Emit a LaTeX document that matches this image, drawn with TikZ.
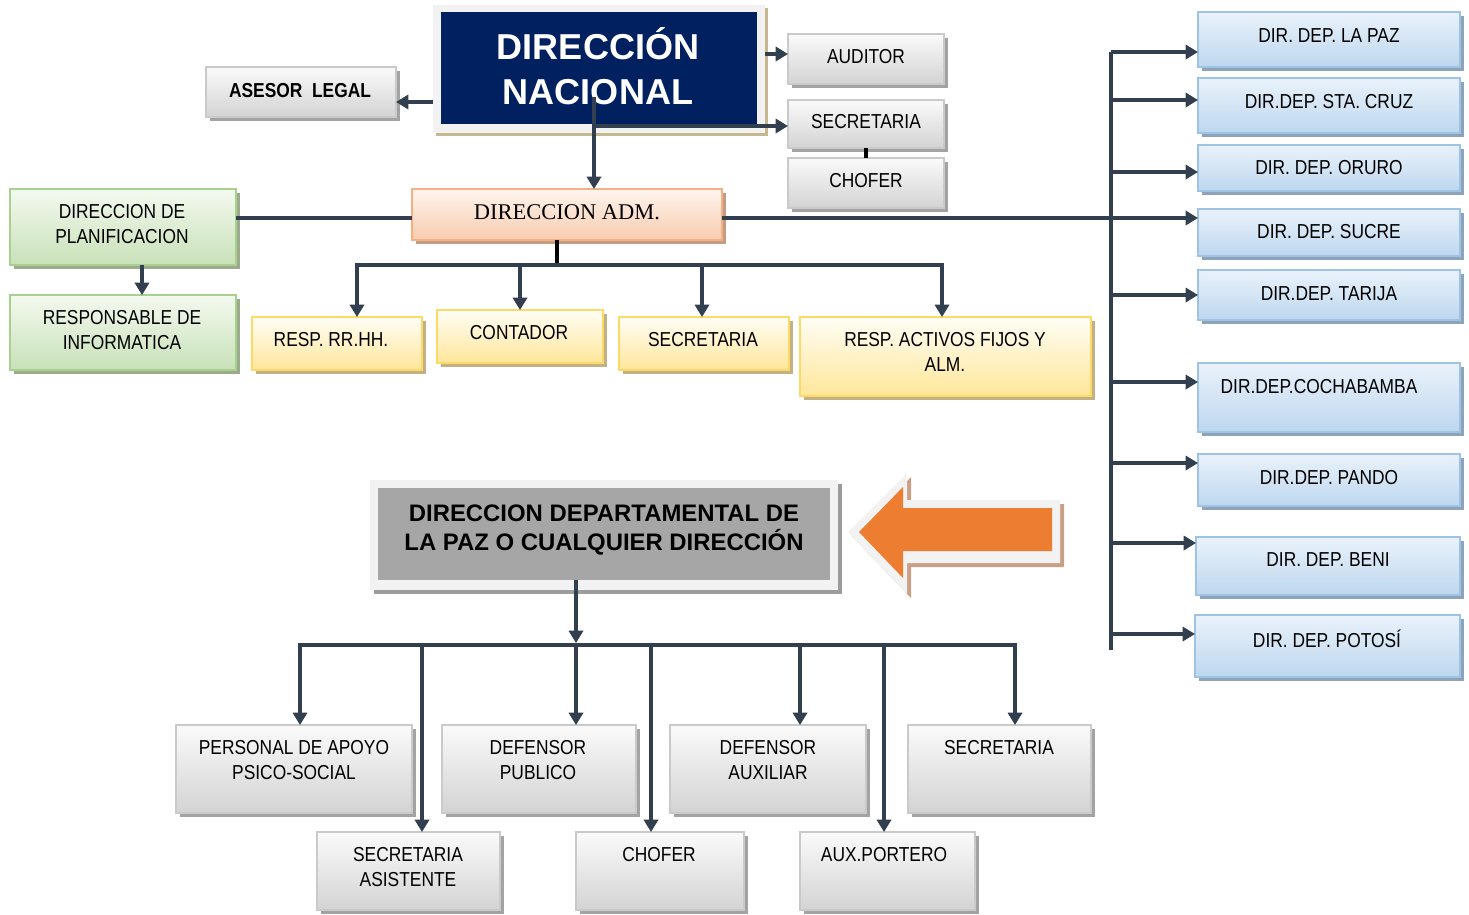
\documentclass[tikz,border=0pt]{standalone}
\usepackage{fontspec}
\setmainfont{Liberation Sans}[FakeStretch=0.86]
\newfontfamily\wideb{Liberation Sans}
\newfontfamily\seriff{Liberation Serif}
\usetikzlibrary{arrows.meta,shadows}
\definecolor{conn}{HTML}{323F4F}
\definecolor{gb}{HTML}{CACACA}\definecolor{gt}{HTML}{FAFAFA}\definecolor{gbot}{HTML}{D3D3D3}\definecolor{gs}{HTML}{A3A3A3}
\definecolor{bb}{HTML}{9DC3E6}\definecolor{bt}{HTML}{EAF2FB}\definecolor{bbot}{HTML}{BDD7EE}\definecolor{bs}{HTML}{8EA2B8}
\definecolor{grb}{HTML}{A9D18E}\definecolor{grt}{HTML}{F3F9EF}\definecolor{grbot}{HTML}{C8E1B8}\definecolor{grs}{HTML}{9CAA8E}
\definecolor{yb}{HTML}{FFD966}\definecolor{yt}{HTML}{FFFEF6}\definecolor{ybot}{HTML}{FFE699}\definecolor{ys}{HTML}{C2B185}
\definecolor{ob}{HTML}{F4B183}\definecolor{ot}{HTML}{FEF5EF}\definecolor{obot}{HTML}{F8CBAD}\definecolor{os}{HTML}{C49C84}
\definecolor{navy}{HTML}{002060}\definecolor{frame}{HTML}{F2F2F2}\definecolor{tan}{HTML}{C6B78F}
\definecolor{ddgray}{HTML}{A6A6A6}\definecolor{ddshadow}{HTML}{9C9C9C}
\definecolor{orarrow}{HTML}{ED7D31}\definecolor{orshadow}{HTML}{C9A086}
\newcommand\fs{\fontsize{11.5pt}{14.2pt}\selectfont}
\newcommand\bx[6]{%
 \pgfmathsetmacro\bxcx{(#3+#5)/2}%
 \pgfmathsetmacro\bxcy{(#4+#6)/2}%
 \pgfmathsetmacro\bxw{(#5-#3)*0.02}%
 \pgfmathsetmacro\bxh{(#6-#4)*0.02}%
 \node[#2, minimum width=\bxw cm, minimum height=\bxh cm] (#1) at (\bxcx,\bxcy) {};}
\tikzset{
 base/.style={rectangle, inner sep=0pt, outer sep=0pt, line width=1.3pt},
 gbox/.style={base, draw=gb, top color=gt, bottom color=gbot, drop shadow={shadow xshift=2.3pt, shadow yshift=-2.3pt, opacity=1, fill=gs}},
 bbox/.style={base, draw=bb, top color=bt, bottom color=bbot, drop shadow={shadow xshift=2.3pt, shadow yshift=-2.3pt, opacity=1, fill=bs}},
 grbox/.style={base, draw=grb, top color=grt, bottom color=grbot, drop shadow={shadow xshift=2.3pt, shadow yshift=-2.3pt, opacity=1, fill=grs}},
 ybox/.style={base, draw=yb, top color=yt, bottom color=ybot, drop shadow={shadow xshift=2.3pt, shadow yshift=-2.3pt, opacity=1, fill=ys}},
 obox/.style={base, draw=ob, top color=ot, bottom color=obot, drop shadow={shadow xshift=2.3pt, shadow yshift=-2.3pt, opacity=1, fill=os}},
 txt/.style={inner sep=0pt, align=center, font=\fs},
 arr/.style={draw=conn, line width=2pt, -{Triangle[width=8pt,length=7pt]}},
 ln/.style={draw=conn, line width=2pt},
}
\begin{document}
\begin{tikzpicture}[x=0.02cm, y=-0.02cm]
\useasboundingbox (0,0) rectangle (1469,914);
% ---- top: direccion nacional
\bx{dn}{base, fill=frame, drop shadow={shadow xshift=1.8pt, shadow yshift=-1.8pt, opacity=1, fill=tan}}{433}{5}{765}{133}
\bx{dnin}{base, fill=navy}{441}{12}{757}{124}
\node[inner sep=0pt, align=center, text=white, font=\wideb\bfseries\fontsize{20.5pt}{25.5pt}\selectfont] (tdn) at (598,66) {DIRECCIÓN\\NACIONAL};
\bx{asesor}{gbox}{206}{67}{396}{117}
\node[txt, font=\fs\bfseries] (tasesor) at (300,91) {ASESOR\ \ LEGAL};
\bx{aud}{gbox}{788}{34}{944}{84}
\node[txt] (taud) at (866,57) {AUDITOR};
\bx{sec1}{gbox}{788}{100}{944}{148}
\node[txt] (tsec1) at (866,122) {SECRETARIA};
\bx{chof1}{gbox}{788}{158}{944}{208}
\node[txt] (tchof1) at (866,181) {CHOFER};
\bx{adm}{obox}{412}{189}{722}{240}
\node[txt, font=\seriff\fontsize{12.8pt}{15pt}\selectfont] (tadm) at (567,212) {DIRECCION ADM.};
\bx{plan}{grbox}{10}{189}{236}{265}
\node[txt] (tplan) at (122,224) {DIRECCION DE\\PLANIFICACION};
\bx{info}{grbox}{10}{295}{236}{370}
\node[txt] (tinfo) at (122,330) {RESPONSABLE DE\\INFORMATICA};
\bx{rrhh}{ybox}{252}{317}{422}{370}
\node[txt] (trrhh) at (331,340) {RESP. RR.HH.};
\bx{cont}{ybox}{437}{310}{603}{363}
\node[txt] (tcont) at (519,333) {CONTADOR};
\bx{sec2}{ybox}{619}{317}{789}{370}
\node[txt] (tsec2) at (703,340) {SECRETARIA};
\bx{act}{ybox}{800}{317}{1091}{396}
\node[txt] (tact) at (945,352) {RESP. ACTIVOS FIJOS Y\\ALM.};
% ---- right column
\bx{lapaz}{bbox}{1198}{12}{1460}{67}
\node[txt] (tlapaz) at (1329,36) {DIR. DEP. LA PAZ};
\bx{scruz}{bbox}{1198}{78}{1460}{133}
\node[txt] (tscruz) at (1329,102) {DIR.DEP. STA. CRUZ};
\bx{oruro}{bbox}{1198}{145}{1460}{191}
\node[txt] (toruro) at (1329,168) {DIR. DEP. ORURO};
\bx{sucre}{bbox}{1198}{209}{1460}{256}
\node[txt] (tsucre) at (1329,232) {DIR. DEP. SUCRE};
\bx{tarija}{bbox}{1198}{270}{1460}{320}
\node[txt] (ttarija) at (1329,294) {DIR.DEP. TARIJA};
\bx{cocha}{bbox}{1198}{363}{1460}{432}
\node[txt] (tcocha) at (1319,387) {DIR.DEP.COCHABAMBA};
\bx{pando}{bbox}{1198}{454}{1460}{506}
\node[txt] (tpando) at (1329,478) {DIR.DEP. PANDO};
\bx{beni}{bbox}{1196}{537}{1460}{595}
\node[txt] (tbeni) at (1328,560) {DIR. DEP. BENI};
\bx{potosi}{bbox}{1195}{615}{1460}{677}
\node[txt] (tpotosi) at (1327,639) {DIR. DEP. POTOSÍ};
% ---- middle: direccion departamental
\bx{dd}{base, fill=frame, drop shadow={shadow xshift=2.3pt, shadow yshift=-2.3pt, opacity=1, fill=ddshadow}}{370}{480}{838}{590}
\bx{ddin}{base, fill=ddgray}{378}{488}{830}{580}
\node[inner sep=0pt, align=center, font=\wideb\bfseries\fontsize{13.6pt}{17pt}\selectfont] (tdd) at (604,530) {DIRECCION DEPARTAMENTAL DE\\LA PAZ O CUALQUIER DIRECCIÓN};
% orange arrow
\fill[orshadow] (852,536) -- (911,477) -- (911,504) -- (1064,504) -- (1064,567) -- (911,567) -- (911,598) -- cycle;
\fill[frame] (848,532) -- (907,473) -- (907,500) -- (1060,500) -- (1060,563) -- (907,563) -- (907,594) -- cycle;
\fill[orarrow] (859,532) -- (903,487) -- (903,508) -- (1052,508) -- (1052,551) -- (903,551) -- (903,578) -- cycle;
% ---- bottom boxes
\bx{pers}{gbox}{176}{725}{412}{813}
\node[txt] (tpers) at (294,760) {PERSONAL DE APOYO\\PSICO-SOCIAL};
\bx{defp}{gbox}{442}{725}{636}{813}
\node[txt] (tdefp) at (538,760) {DEFENSOR\\PUBLICO};
\bx{defa}{gbox}{670}{725}{866}{813}
\node[txt] (tdefa) at (768,760) {DEFENSOR\\AUXILIAR};
\bx{sec3}{gbox}{908}{725}{1091}{813}
\node[txt] (tsec3) at (999,748) {SECRETARIA};
\bx{seca}{gbox}{317}{832}{500}{910}
\node[txt] (tseca) at (408,867) {SECRETARIA\\ASISTENTE};
\bx{chof2}{gbox}{576}{832}{744}{910}
\node[txt] (tchof2) at (659,855) {CHOFER};
\bx{port}{gbox}{800}{832}{975}{910}
\node[txt] (tport) at (884,855) {AUX.PORTERO};
% ---- connectors top
\draw[arr] (dn.west |- 0,102) -- (asesor.east |- 0,102);
\draw[arr] (dn.east |- 0,54) -- (aud.west |- 0,54);
\coordinate (v1) at (594,97);
\coordinate (v2) at (594,126);
\draw[arr] (v1) -- (adm.north -| v1);
\draw[arr] (v2) -- (sec1.west |- v2);
\draw[black, line width=1.8pt] (sec1.south) -- (chof1.north);
\draw[ln] (plan.east |- 0,218) -- (adm.west |- 0,218);
\draw[arr] (adm.east |- 0,218) -- (sucre.west |- 0,218);
\draw[arr] (plan.south -| 142,0) -- (info.north -| 142,0);
% right bus
\coordinate (rb1) at (1111,52);
\coordinate (rb2) at (1111,650);
\draw[ln] (rb1) -- (rb2);
\draw[arr] (rb1) -- (lapaz.west |- rb1);
\draw[arr] (1111,100) -- (scruz.west |- 0,100);
\draw[arr] (1111,172) -- (oruro.west |- 0,172);
\draw[arr] (1111,295) -- (tarija.west |- 0,295);
\draw[arr] (1111,382) -- (cocha.west |- 0,382);
\draw[arr] (1111,463) -- (pando.west |- 0,463);
\draw[arr] (1111,543) -- (beni.west |- 0,543);
\draw[arr] (1111,634) -- (potosi.west |- 0,634);
% adm bus
\coordinate (hb) at (557,265);
\coordinate (hl) at (357,265);
\coordinate (hr) at (942,265);
\draw[black, line width=1.8pt] (adm.south -| hb) -- (hb);
\draw[ln, line cap=rect] (hl) -- (hr);
\draw[arr] (hl) -- (rrhh.north -| hl);
\draw[arr] (520,265) -- (cont.north -| 520,0);
\draw[arr] (702,265) -- (sec2.north -| 702,0);
\draw[arr] (hr) -- (act.north -| hr);
% bottom bus
\coordinate (bbus) at (576,643);
\coordinate (bl) at (300,645);
\coordinate (br) at (1015,645);
\draw[arr] (ddin.south -| bbus) -- (bbus);
\draw[ln, line cap=rect] (bl) -- (br);
\draw[arr] (bl) -- (pers.north -| bl);
\draw[arr] (422,645) -- (seca.north -| 422,0);
\draw[arr] (576,645) -- (defp.north -| 576,0);
\draw[arr] (651,645) -- (chof2.north -| 651,0);
\draw[arr] (800,645) -- (defa.north -| 800,0);
\draw[arr] (884,645) -- (port.north -| 884,0);
\draw[arr] (br) -- (sec3.north -| br);
\end{tikzpicture}
\end{document}
